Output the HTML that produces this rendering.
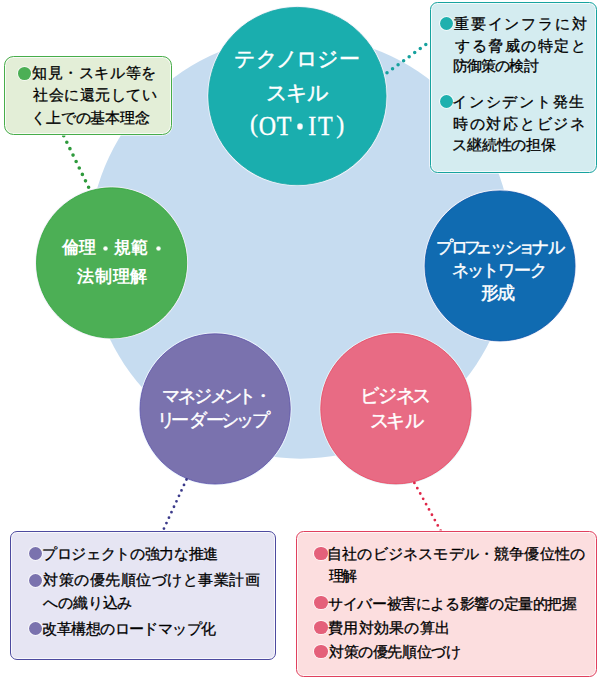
<!DOCTYPE html>
<html><head><meta charset="utf-8">
<style>
html,body{margin:0;padding:0;background:#fff;}
body{width:600px;height:680px;position:relative;overflow:hidden;font-family:"Liberation Sans",sans-serif;color:#1e1a1a;}
svg{position:absolute;left:0;top:0;}
.c{position:absolute;color:#fff;white-space:nowrap;line-height:24px;}
.box{position:absolute;box-sizing:border-box;}
.ln{position:absolute;white-space:nowrap;line-height:20px;}
.b{position:absolute;border-radius:50%;box-shadow:0 0 0 0.8px rgba(255,255,255,0.85);}
.x{height:24px;}.x span{position:absolute;top:0;}
</style></head>
<body>

<svg width="600" height="680" viewBox="0 0 600 680">
<circle cx="300.35" cy="247.16" r="211.5" fill="#c6dcf0" stroke="none" stroke-width="0"/>
<circle cx="297.35" cy="96.1" r="90.0" fill="#f2f4fb" stroke="none" stroke-width="0"/>
<circle cx="297.35" cy="96.1" r="88.7" fill="#1aaeae" stroke="#16a6a6" stroke-width="0.8"/>
<circle cx="111.6" cy="262.9" r="76.4" fill="#f4f0fa" stroke="none" stroke-width="0"/>
<circle cx="111.6" cy="262.9" r="75.1" fill="#4caf55" stroke="#2fa63a" stroke-width="0.8"/>
<circle cx="500" cy="265.9" r="76.3" fill="#f4f4fa" stroke="none" stroke-width="0"/>
<circle cx="500" cy="265.9" r="75.0" fill="#106bb1" stroke="#0a55a8" stroke-width="0.8"/>
<circle cx="215.15" cy="408.9" r="76.4" fill="#eef6fc" stroke="none" stroke-width="0"/>
<circle cx="215.15" cy="408.9" r="75.1" fill="#7a72ae" stroke="#5a50a8" stroke-width="0.8"/>
<circle cx="395.9" cy="408.75" r="76.4" fill="#e6f8fc" stroke="none" stroke-width="0"/>
<circle cx="395.9" cy="408.75" r="75.15" fill="#e86b84" stroke="#e84660" stroke-width="0.8"/>
<g fill="none" stroke-linecap="round">
<line x1="63.7" y1="135.8" x2="88.6" y2="187.3" stroke="#2e9a3c" stroke-width="3.6" stroke-dasharray="0 7.15"/>
<line x1="387" y1="72.8" x2="425.8" y2="44.5" stroke="#16a19e" stroke-width="3.5" stroke-dasharray="0 6.86"/>
<line x1="186.5" y1="479.5" x2="163.9" y2="528.7" stroke="#3b3a8a" stroke-width="2.8" stroke-dasharray="0 6.0"/>
<line x1="414.4" y1="482.9" x2="440.7" y2="530.7" stroke="#e0284a" stroke-width="2.8" stroke-dasharray="0 6.06"/>
</g></svg>
<div class="box" style="left:3.9px;top:56px;width:168.1px;height:78.8px;background:#e3eed7;border:1.7px solid #47ad4a;border-radius:9.5px;box-shadow:inset 0 0 0 1px rgba(255,255,255,0.75),0 0 0 0.8px rgba(255,255,255,0.8);"></div>
<div class="box" style="left:429.9px;top:2.2px;width:167.5px;height:170.7px;background:#d4ecf0;border:1.5px solid #17a39f;border-radius:7.5px;box-shadow:inset 0 0 0 1px rgba(255,255,255,0.75),0 0 0 0.8px rgba(255,255,255,0.8);"></div>
<div class="box" style="left:10.4px;top:530.75px;width:265.7px;height:129.55px;background:#e6e5f3;border:1.5px solid #4d4a9f;border-radius:7px;box-shadow:inset 0 0 0 1px rgba(255,255,255,0.75),0 0 0 0.8px rgba(255,255,255,0.8);"></div>
<div class="box" style="left:295.8px;top:530.9px;width:301.6px;height:145.9px;background:#fcdedf;border:1.5px solid #e0405e;border-radius:7.5px;box-shadow:inset 0 0 0 1px rgba(255,255,255,0.75),0 0 0 0.8px rgba(255,255,255,0.8);"></div>
<div class="b" style="left:18.25px;top:66.75px;width:12.75px;height:12.75px;background:#4caf55;"></div>
<div class="b" style="left:439.7px;top:16.8px;width:13.3px;height:13.3px;background:#1eb0ae;"></div>
<div class="b" style="left:439.6px;top:94.7px;width:13.4px;height:13.3px;background:#1eb0ae;"></div>
<div class="b" style="left:28.6px;top:546.7px;width:13.3px;height:13.3px;background:#7a72ae;"></div>
<div class="b" style="left:28.6px;top:574px;width:13.3px;height:13.3px;background:#7a72ae;"></div>
<div class="b" style="left:28.6px;top:621.6px;width:13.3px;height:13.3px;background:#7a72ae;"></div>
<div class="b" style="left:314.4px;top:547.4px;width:13.2px;height:12.6px;background:#e4607a;"></div>
<div class="b" style="left:314.4px;top:596px;width:13.2px;height:12.6px;background:#e4607a;"></div>
<div class="b" style="left:314.4px;top:621px;width:13.2px;height:12.6px;background:#e4607a;"></div>
<div class="b" style="left:314.4px;top:645.3px;width:13.2px;height:12.7px;background:#e4607a;"></div>
<div class="b" style="left:297.5px;top:124.3px;width:4.4px;height:4.4px;background:#ffffff;"></div>
<div class="b" style="left:103.7px;top:247px;width:3.0px;height:3px;background:#ffffff;"></div>
<div class="b" style="left:156.5px;top:247px;width:3.0px;height:3px;background:#ffffff;"></div>
<div class="c x" style="left:234.20px;top:46.90px;font-size:21px;letter-spacing:0;-webkit-text-stroke:0.45px #fff;"><span style="left:0.10px">テ</span><span style="left:22.03px">ク</span><span style="left:42.28px">ノ</span><span style="left:62.11px">ロ</span><span style="left:82.46px">ジ</span><span style="left:104.44px">ー</span></div>
<div class="c x" style="left:265.80px;top:80.70px;font-size:21px;letter-spacing:0;-webkit-text-stroke:0.45px #fff;"><span style="left:-0.20px">ス</span><span style="left:19.75px">キ</span><span style="left:41.65px">ル</span></div>
<div class="c" style="left:250.00px;top:111.00px;font-size:24px;letter-spacing:0.000px;font-family:'Liberation Serif',serif;-webkit-text-stroke:0.3px #fff;transform:scaleY(1.07);">(</div>
<div class="c" style="left:258.80px;top:114.20px;font-size:24px;letter-spacing:0.600px;font-family:'Liberation Serif',serif;-webkit-text-stroke:0.3px #fff;transform:scaleY(1.13);">OT</div>
<div class="c" style="left:308.20px;top:113.60px;font-size:24px;letter-spacing:1.900px;font-family:'Liberation Serif',serif;-webkit-text-stroke:0.3px #fff;transform:scaleY(1.1);">IT</div>
<div class="c" style="left:336.20px;top:111.50px;font-size:24px;letter-spacing:0.000px;font-family:'Liberation Serif',serif;-webkit-text-stroke:0.3px #fff;transform:scaleY(1.07);">)</div>
<div class="c x" style="left:61.60px;top:234.70px;font-size:16.5px;letter-spacing:0;font-weight:bold;"><span style="left:0.00px">倫</span><span style="left:17.47px">理</span><span style="left:34.94px">　</span><span style="left:52.42px">規</span><span style="left:69.89px">範</span><span style="left:87.36px">　</span></div>
<div class="c x" style="left:77.20px;top:263.70px;font-size:16.5px;letter-spacing:0;font-weight:bold;"><span style="left:0.00px">法</span><span style="left:17.72px">制</span><span style="left:35.45px">理</span><span style="left:53.19px">解</span></div>
<div class="c x" style="left:436.80px;top:236.30px;font-size:17px;letter-spacing:0;-webkit-text-stroke:0.45px #fff;"><span style="left:-1.00px">プ</span><span style="left:13.77px">ロ</span><span style="left:27.62px">フ</span><span style="left:37.91px">ェ</span><span style="left:53.10px">ッ</span><span style="left:67.87px">シ</span><span style="left:81.11px">ョ</span><span style="left:95.70px">ナ</span><span style="left:111.19px">ル</span></div>
<div class="c x" style="left:452.00px;top:259.20px;font-size:17px;letter-spacing:0;-webkit-text-stroke:0.45px #fff;"><span style="left:0.00px">ネ</span><span style="left:15.30px">ッ</span><span style="left:29.91px">ト</span><span style="left:45.92px">ワ</span><span style="left:61.88px">ー</span><span style="left:77.80px">ク</span></div>
<div class="c x" style="left:481.00px;top:281.20px;font-size:17.5px;letter-spacing:0;-webkit-text-stroke:0.45px #fff;"><span style="left:0.00px">形</span><span style="left:16.39px">成</span></div>
<div class="c x" style="left:162.60px;top:384.20px;font-size:17.5px;letter-spacing:0;-webkit-text-stroke:0.45px #fff;"><span style="left:-1.10px">マ</span><span style="left:15.61px">ネ</span><span style="left:31.33px">ジ</span><span style="left:47.60px">メ</span><span style="left:61.86px">ン</span><span style="left:75.63px">ト</span><span style="left:91.00px">・</span></div>
<div class="c x" style="left:156.20px;top:407.50px;font-size:17.5px;letter-spacing:0;-webkit-text-stroke:0.45px #fff;"><span style="left:0.50px">リ</span><span style="left:15.08px">ー</span><span style="left:33.16px">ダ</span><span style="left:50.23px">ー</span><span style="left:64.83px">シ</span><span style="left:79.41px">ッ</span><span style="left:95.98px">プ</span></div>
<div class="c x" style="left:360.00px;top:384.00px;font-size:18.5px;letter-spacing:0;-webkit-text-stroke:0.45px #fff;"><span style="left:0.45px">ビ</span><span style="left:18.33px">ジ</span><span style="left:35.56px">ネ</span><span style="left:52.43px">ス</span></div>
<div class="c x" style="left:370.00px;top:408.50px;font-size:18.5px;letter-spacing:0;-webkit-text-stroke:0.45px #fff;"><span style="left:-0.10px">ス</span><span style="left:16.18px">キ</span><span style="left:34.50px">ル</span></div>
<div class="ln x" style="left:32.20px;top:62.50px;font-size:15px;letter-spacing:0;-webkit-text-stroke:0.3px #000;color:#000;"><span style="left:0.00px">知</span><span style="left:15.56px">見</span><span style="left:31.14px">・</span><span style="left:46.70px">ス</span><span style="left:62.28px">キ</span><span style="left:77.84px">ル</span><span style="left:93.42px">等</span><span style="left:108.98px">を</span></div>
<div class="ln x" style="left:33.20px;top:85.00px;font-size:15px;letter-spacing:0;-webkit-text-stroke:0.3px #000;color:#000;"><span style="left:0.00px">社</span><span style="left:15.50px">会</span><span style="left:31.02px">に</span><span style="left:46.53px">還</span><span style="left:62.05px">元</span><span style="left:77.56px">し</span><span style="left:93.08px">て</span><span style="left:108.59px">い</span></div>
<div class="ln x" style="left:31.00px;top:107.50px;font-size:15px;letter-spacing:0;-webkit-text-stroke:0.3px #000;color:#000;"><span style="left:0.00px">く</span><span style="left:14.83px">上</span><span style="left:29.67px">で</span><span style="left:44.50px">の</span><span style="left:59.34px">基</span><span style="left:74.17px">本</span><span style="left:89.02px">理</span><span style="left:103.84px">念</span></div>
<div class="ln x" style="left:454.00px;top:14.10px;font-size:15px;letter-spacing:0;-webkit-text-stroke:0.3px #000;color:#000;"><span style="left:0.00px">重</span><span style="left:16.80px">要</span><span style="left:33.59px">イ</span><span style="left:50.39px">ン</span><span style="left:67.19px">フ</span><span style="left:83.98px">ラ</span><span style="left:100.80px">に</span><span style="left:117.59px">対</span></div>
<div class="ln x" style="left:455.00px;top:36.40px;font-size:15px;letter-spacing:0;-webkit-text-stroke:0.3px #000;color:#000;"><span style="left:0.00px">す</span><span style="left:16.50px">る</span><span style="left:33.00px">脅</span><span style="left:49.50px">威</span><span style="left:66.00px">の</span><span style="left:82.50px">特</span><span style="left:99.00px">定</span><span style="left:115.50px">と</span></div>
<div class="ln x" style="left:453.00px;top:56.40px;font-size:15px;letter-spacing:0;-webkit-text-stroke:0.3px #000;color:#000;"><span style="left:0.00px">防</span><span style="left:14.09px">御</span><span style="left:28.19px">策</span><span style="left:42.30px">の</span><span style="left:56.39px">検</span><span style="left:70.50px">討</span></div>
<div class="ln x" style="left:452.40px;top:92.00px;font-size:15px;letter-spacing:0;-webkit-text-stroke:0.3px #000;color:#000;"><span style="left:0.00px">イ</span><span style="left:16.69px">ン</span><span style="left:33.39px">シ</span><span style="left:50.09px">デ</span><span style="left:66.80px">ン</span><span style="left:83.48px">ト</span><span style="left:100.19px">発</span><span style="left:116.89px">生</span></div>
<div class="ln x" style="left:453.00px;top:114.30px;font-size:15px;letter-spacing:0;-webkit-text-stroke:0.3px #000;color:#000;"><span style="left:0.00px">時</span><span style="left:16.73px">の</span><span style="left:33.48px">対</span><span style="left:50.22px">応</span><span style="left:66.97px">と</span><span style="left:83.70px">ビ</span><span style="left:100.45px">ジ</span><span style="left:117.19px">ネ</span></div>
<div class="ln x" style="left:452.40px;top:135.00px;font-size:15px;letter-spacing:0;-webkit-text-stroke:0.3px #000;color:#000;"><span style="left:0.00px">ス</span><span style="left:14.75px">継</span><span style="left:29.50px">続</span><span style="left:44.25px">性</span><span style="left:59.00px">の</span><span style="left:73.75px">担</span><span style="left:88.50px">保</span></div>
<div class="ln x" style="left:42.20px;top:544.00px;font-size:15px;letter-spacing:0;-webkit-text-stroke:0.3px #000;color:#000;"><span style="left:0.00px">プ</span><span style="left:14.64px">ロ</span><span style="left:29.28px">ジ</span><span style="left:43.92px">ェ</span><span style="left:58.58px">ク</span><span style="left:73.22px">ト</span><span style="left:87.86px">の</span><span style="left:102.50px">強</span><span style="left:117.16px">力</span><span style="left:131.80px">な</span><span style="left:146.44px">推</span><span style="left:161.09px">進</span></div>
<div class="ln x" style="left:43.20px;top:570.40px;font-size:15px;letter-spacing:0;-webkit-text-stroke:0.3px #000;color:#000;"><span style="left:0.00px">対</span><span style="left:15.50px">策</span><span style="left:31.02px">の</span><span style="left:46.52px">優</span><span style="left:62.03px">先</span><span style="left:77.53px">順</span><span style="left:93.05px">位</span><span style="left:108.55px">づ</span><span style="left:124.06px">け</span><span style="left:139.56px">と</span><span style="left:155.08px">事</span><span style="left:170.58px">業</span><span style="left:186.09px">計</span><span style="left:201.59px">画</span></div>
<div class="ln x" style="left:43.20px;top:593.30px;font-size:15px;letter-spacing:0;-webkit-text-stroke:0.3px #000;color:#000;"><span style="left:0.00px">へ</span><span style="left:14.83px">の</span><span style="left:29.67px">織</span><span style="left:44.52px">り</span><span style="left:59.36px">込</span><span style="left:74.19px">み</span></div>
<div class="ln x" style="left:42.20px;top:618.80px;font-size:15px;letter-spacing:0;-webkit-text-stroke:0.3px #000;color:#000;"><span style="left:0.00px">改</span><span style="left:14.47px">革</span><span style="left:28.94px">構</span><span style="left:43.41px">想</span><span style="left:57.89px">の</span><span style="left:72.36px">ロ</span><span style="left:86.83px">ー</span><span style="left:101.30px">ド</span><span style="left:115.78px">マ</span><span style="left:130.25px">ッ</span><span style="left:144.72px">プ</span><span style="left:159.19px">化</span></div>
<div class="ln x" style="left:327.00px;top:543.60px;font-size:15px;letter-spacing:0;-webkit-text-stroke:0.3px #000;color:#000;"><span style="left:0.00px">自</span><span style="left:15.19px">社</span><span style="left:30.38px">の</span><span style="left:45.56px">ビ</span><span style="left:60.75px">ジ</span><span style="left:75.94px">ネ</span><span style="left:91.12px">ス</span><span style="left:106.31px">モ</span><span style="left:121.50px">デ</span><span style="left:136.69px">ル</span><span style="left:151.88px">・</span><span style="left:167.06px">競</span><span style="left:182.25px">争</span><span style="left:197.44px">優</span><span style="left:212.62px">位</span><span style="left:227.81px">性</span><span style="left:243.00px">の</span></div>
<div class="ln x" style="left:328.80px;top:565.80px;font-size:15px;letter-spacing:0;-webkit-text-stroke:0.3px #000;color:#000;"><span style="left:0.00px">理</span><span style="left:13.59px">解</span></div>
<div class="ln x" style="left:328.00px;top:594.10px;font-size:15px;letter-spacing:0;-webkit-text-stroke:0.3px #000;color:#000;"><span style="left:0.00px">サ</span><span style="left:14.62px">イ</span><span style="left:29.25px">バ</span><span style="left:43.88px">ー</span><span style="left:58.50px">被</span><span style="left:73.12px">害</span><span style="left:87.75px">に</span><span style="left:102.38px">よ</span><span style="left:117.00px">る</span><span style="left:131.62px">影</span><span style="left:146.25px">響</span><span style="left:160.88px">の</span><span style="left:175.50px">定</span><span style="left:190.12px">量</span><span style="left:204.75px">的</span><span style="left:219.38px">把</span><span style="left:234.00px">握</span></div>
<div class="ln x" style="left:328.00px;top:618.30px;font-size:15px;letter-spacing:0;-webkit-text-stroke:0.3px #000;color:#000;"><span style="left:0.00px">費</span><span style="left:15.25px">用</span><span style="left:30.50px">対</span><span style="left:45.77px">効</span><span style="left:61.02px">果</span><span style="left:76.28px">の</span><span style="left:91.53px">算</span><span style="left:106.80px">出</span></div>
<div class="ln x" style="left:329.00px;top:642.00px;font-size:15px;letter-spacing:0;-webkit-text-stroke:0.3px #000;color:#000;"><span style="left:0.00px">対</span><span style="left:14.58px">策</span><span style="left:29.17px">の</span><span style="left:43.75px">優</span><span style="left:58.34px">先</span><span style="left:72.92px">順</span><span style="left:87.52px">位</span><span style="left:102.09px">づ</span><span style="left:116.69px">け</span></div>
</body></html>
